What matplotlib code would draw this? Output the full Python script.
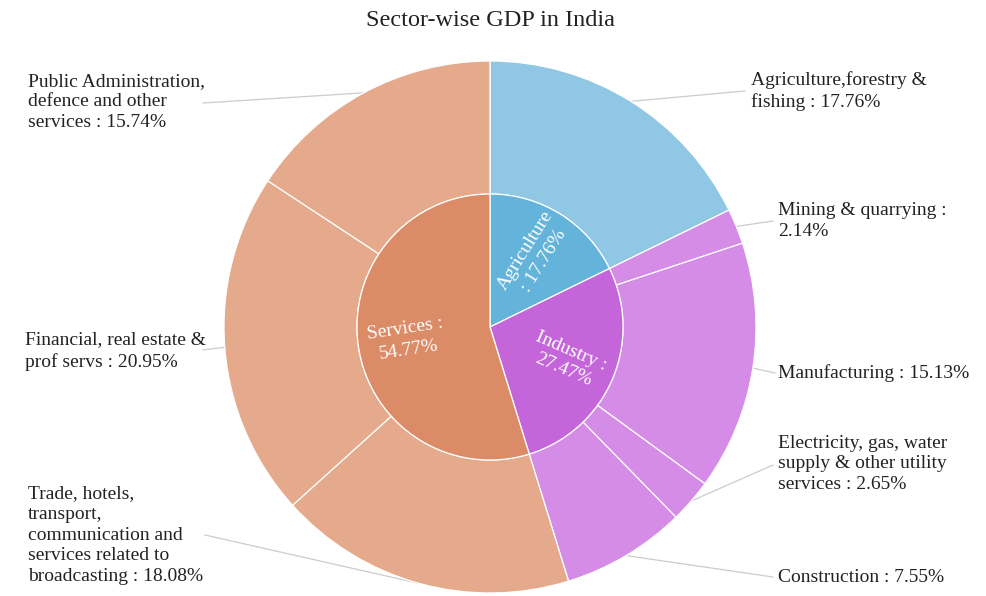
import numpy as np
import matplotlib.pyplot as plt

plt.rcParams['font.family'] = ['Liberation Serif', 'DejaVu Serif']

# data
sectors = ["Agriculture", "Industry", "Services"]
sector_vals = [17.76, 27.47, 54.77]
sector_text = ["Agriculture\n: 17.76%", "Industry :\n27.47%", "Services :\n54.77%"]

subs = ["Agriculture,forestry & fishing", "Mining & quarrying", "Manufacturing",
        "Electricity, gas, water supply & other utility services",
        "Construction", "Trade, hotels, transport, communication and services related to broadcasting",
        "Financial, real estate & prof servs", "Public Administration, defence and other services"]
sub_vals = [17.76, 2.14, 15.13, 2.65, 7.55, 18.08, 20.95, 15.74]
sub_text = ["Agriculture,forestry &\nfishing : 17.76%", "Mining & quarrying :\n2.14%",
            "Manufacturing : 15.13%",
            "Electricity, gas, water\nsupply & other utility\nservices : 2.65%",
            "Construction : 7.55%",
            "Trade, hotels,\ntransport,\ncommunication and\nservices related to\nbroadcasting : 18.08%",
            "Financial, real estate &\nprof servs : 20.95%",
            "Public Administration,\ndefence and other\nservices : 15.74%"]

inner_colors = ["#63b3da", "#c466da", "#dc8b67"]
outer_colors = ["#8fc7e4", "#d48ce6", "#d48ce6", "#d48ce6", "#d48ce6",
                "#e5a98c", "#e5a98c", "#e5a98c"]

W, H = 986, 596
fig = plt.figure(figsize=(W / 100, H / 100), dpi=100)
ax = fig.add_axes([0, 0, 1, 1])

def py(y):
    # pixel row (from top) -> data y
    return H - y

cx, cy = 490, py(327)
r_out, r_in = 266, 133

ax.pie(sub_vals, radius=r_out, center=(cx, cy), colors=outer_colors, startangle=90,
       counterclock=False, wedgeprops=dict(width=r_out - r_in, edgecolor="white", linewidth=0.9))
ax.pie(sector_vals, radius=r_in, center=(cx, cy), colors=inner_colors, startangle=90,
       counterclock=False, wedgeprops=dict(edgecolor="white", linewidth=0.9))

# inner labels, rotated along the wedge
cum = np.cumsum(sector_vals) - np.array(sector_vals) / 2
for txt, m in zip(sector_text, cum):
    ang = 90 - 3.6 * m
    rad = np.deg2rad(ang)
    rot = ang
    if rot < -90:
        rot += 180
    ax.text(cx + 84 * np.cos(rad), cy + 84 * np.sin(rad), txt, color="white",
            fontsize=14, ha="center", va="center", rotation=rot,
            rotation_mode="anchor", linespacing=1.3, multialignment="center")

# outer labels with leader lines
label_pos = [(751, 91), (778, 221), (778, 373), (778, 464),
             (778, 577), (28, 535), (25, 351), (28, 102)]
line_end = [(745, 91), (773, 221), (775, 373), (773, 465), (773, 577),
            (205, 535), (203, 350), (203, 103)]
cum = np.cumsum(sub_vals) - np.array(sub_vals) / 2
for txt, m, (lx, ly), (ex, ey) in zip(sub_text, cum, label_pos, line_end):
    rad = np.deg2rad(90 - 3.6 * m)
    sx, sy = cx + r_out * np.cos(rad), cy + r_out * np.sin(rad)
    ax.plot([sx, ex], [sy, py(ey)], color="#cccccc", linewidth=0.9, zorder=0)
    ax.text(lx, py(ly), txt, fontsize=14, color="#222222", ha="left", va="center",
            linespacing=1.3)

ax.text(W / 2 - 3, py(20), "Sector-wise GDP in India", fontsize=17.5, color="#222222",
        ha="center", va="center")

ax.set_xlim(0, W)
ax.set_ylim(0, H)
ax.set_aspect("equal")
ax.axis("off")

fig.savefig("out.png", dpi=100)
